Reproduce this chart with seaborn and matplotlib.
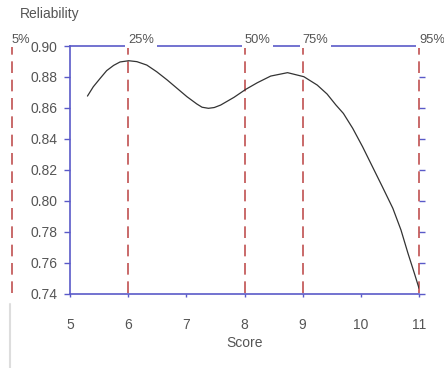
"""
Reliability vs score with percentile markers.
"""
import matplotlib
matplotlib.use('Agg')
import matplotlib.pyplot as plt
from matplotlib.lines import Line2D
import seaborn as sns
import pandas as pd

# Curve
score = [5.30, 5.40, 5.52, 5.63, 5.75, 5.86, 6.01, 6.15, 6.32, 6.49, 6.67,
         6.84, 7.01, 7.18, 7.27, 7.38, 7.48, 7.59, 7.82, 8.02, 8.22, 8.45,
         8.74, 9.02, 9.25, 9.42, 9.57, 9.70, 9.86, 10.03, 10.20, 10.37,
         10.55, 10.69, 10.81, 10.92, 11.00]
reliability = [0.8677, 0.8737, 0.8792, 0.8841, 0.8875, 0.8897, 0.8905,
               0.8899, 0.8877, 0.8834, 0.8781, 0.8727, 0.8673, 0.8626,
               0.8605, 0.8598, 0.8603, 0.8619, 0.8669, 0.8720, 0.8763,
               0.8806, 0.8828, 0.8802, 0.8748, 0.8690, 0.8620, 0.8565,
               0.8469, 0.8350, 0.8221, 0.8092, 0.7953, 0.7813, 0.7663,
               0.7534, 0.7437]

# Percentile positions on the score axis
pct_labels = ['5%', '25%', '50%', '75%', '95%']
pct_scores = [4.0, 6.0, 8.0, 9.0, 11.0]

x_ticks = [5, 6, 7, 8, 9, 10, 11]
y_ticks = [0.74, 0.76, 0.78, 0.80, 0.82, 0.84, 0.86, 0.88, 0.90]

blue = '#5a5ac8'
red = '#c05050'
text_col = '#555555'

sns.set_style('white')
plt.rcParams['font.family'] = ['Liberation Sans', 'DejaVu Sans']

df = pd.DataFrame({'Score': score, 'Reliability': reliability})

fig = plt.figure(figsize=(4.44, 3.68), dpi=100)
ax = fig.add_axes([0.1577, 0.2011, 0.7860, 0.6739])

# Percentile lines (5% sits outside the axes)
for lab, xs in zip(pct_labels, pct_scores):
    ax.plot([xs, xs], [0.7405, 0.8995], color=red, lw=1.2,
            dashes=(7, 4), clip_on=False, zorder=1)
    box = None
    if xs >= 5:
        box = dict(facecolor='white', edgecolor='none', pad=2)
    ax.text(xs, 0.9003, lab, color=text_col, fontsize=9.3, ha='left',
            va='bottom', clip_on=False, zorder=5, bbox=box)

sns.lineplot(data=df, x='Score', y='Reliability', ax=ax, color='#333333',
             lw=0.9, zorder=3)

ax.set_xlim(5, 11)
ax.set_ylim(0.74, 0.90)
ax.set_xticks(x_ticks)
ax.set_yticks(y_ticks)
ax.set_xticklabels([str(t) for t in x_ticks])
ax.set_yticklabels([f'{t:.2f}' for t in y_ticks])

for side in ['left', 'bottom', 'top']:
    ax.spines[side].set_color(blue)
    ax.spines[side].set_linewidth(1.2)
    ax.spines[side].set_zorder(2)
ax.spines['right'].set_visible(False)

ax.tick_params(axis='y', which='both', left=True, right=True, direction='out',
               length=4, width=1, color=blue, labelcolor=text_col,
               labelsize=10, pad=5)
ax.tick_params(axis='x', which='both', bottom=True, direction='out',
               length=2.5, width=1, color=blue, labelcolor=text_col,
               labelsize=10, pad=15)

ax.set_xlabel('Score', color=text_col, fontsize=10, labelpad=3)
ax.set_ylabel('')
fig.text(20 / 444, 1 - 14 / 368, 'Reliability', color=text_col, fontsize=10,
         ha='left', va='center')

# faint window edge at bottom left
fig.add_artist(Line2D([10 / 444, 10 / 444], [0, 64 / 368], color='#dddddd',
                      lw=1.5))

fig.savefig('out.png', dpi=100)
plt.close(fig)
